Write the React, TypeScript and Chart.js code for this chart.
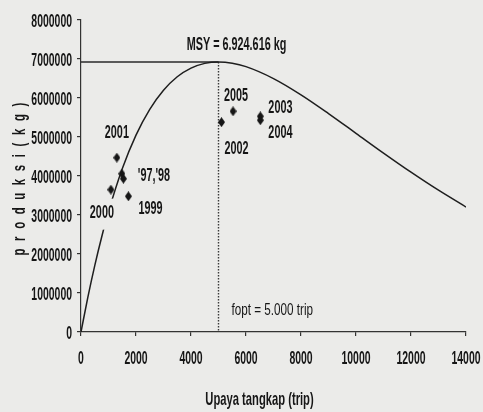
import { useEffect, useRef } from "react";
import { Chart, registerables } from "chart.js";

Chart.register(...registerables);

// ---- data ----
const years = ["1997", "1998", "1999", "2000", "2001", "2002", "2003", "2004", "2005"];
const effortTrips = [1486, 1543, 1725, 1087, 1304, 5109, 6522, 6522, 5529];
const productionKg = [4060000, 3930000, 3480000, 3650000, 4470000, 5380000, 5530000, 5430000, 5660000];

const curveEffort = [0, 250, 500, 750, 1000, 1500, 2000, 2500, 3000, 3500, 4000, 4500, 5000, 5500, 6000, 7000, 8000, 9000, 10000, 11000, 12000, 13000, 14000];
const curveProduction = [0, 895000, 1703000, 2431000, 3082000, 4183000, 5047000, 5708000, 6198000, 6544000, 6766000, 6888000, 6925000, 6893000, 6804000, 6498000, 6081000, 5601000, 5095000, 4588000, 4098000, 3635000, 3205000];

const msyKg = 6924616;
const foptTrips = 5000;

const xTickValues = [0, 2000, 4000, 6000, 8000, 10000, 12000, 14000];
const yTickValues = [0, 1000000, 2000000, 3000000, 4000000, 5000000, 6000000, 7000000, 8000000];

const xTitle = "Upaya tangkap (trip)";
const yTitle = "p r o d u k s i ( k g )";
const msyText = "MSY = 6.924.616 kg";
const foptText = "fopt = 5.000 trip";
const pointLabels = ["'97,'98", "1999", "2000", "2001", "2002", "2003", "2004", "2005"];

// ---- styling ----
const BG = "#ebebe9";
const INK = "#161616";
const FONT = "'Liberation Sans', Arial, sans-serif";

function drawText(
  ctx: CanvasRenderingContext2D,
  text: string,
  x: number,
  y: number,
  size: number,
  sx: number,
  align: CanvasTextAlign,
  weight = "bold",
  rotate = 0,
  spacing = 0
) {
  ctx.save();
  ctx.translate(x, y);
  if (rotate) ctx.rotate(rotate);
  ctx.scale(sx, 1);
  ctx.font = `${weight} ${size}px ${FONT}`;
  try {
    (ctx as any).letterSpacing = spacing + "px";
  } catch (e) {}
  ctx.textAlign = align;
  ctx.textBaseline = "alphabetic";
  ctx.fillStyle = INK;
  ctx.fillText(text, 0, size * 0.36);
  ctx.restore();
}

function diamond(): HTMLCanvasElement {
  const c = document.createElement("canvas");
  c.width = 7;
  c.height = 10;
  const g = c.getContext("2d")!;
  g.fillStyle = INK;
  g.beginPath();
  g.moveTo(3.5, 0);
  g.lineTo(7, 5);
  g.lineTo(3.5, 10);
  g.lineTo(0, 5);
  g.closePath();
  g.fill();
  return c;
}

const annotate = {
  id: "annotate",
  beforeDraw(chart: any) {
    const ctx = chart.ctx;
    ctx.save();
    ctx.fillStyle = BG;
    ctx.fillRect(0, 0, chart.width, chart.height);
    ctx.restore();
  },
  afterDatasetsDraw(chart: any) {
    const ctx: CanvasRenderingContext2D = chart.ctx;
    const xs = chart.scales.x;
    const ys = chart.scales.y;
    const px = (i: number) => xs.getPixelForValue(effortTrips[i]);
    const py = (i: number) => ys.getPixelForValue(productionKg[i]);

    // label background behind "2000" (breaks the curve like in the reference)
    ctx.save();
    ctx.fillStyle = BG;
    ctx.fillRect(px(3) - 22, py(3) + 9, 30, 31);
    ctx.restore();

    // point labels
    drawText(ctx, pointLabels[0], px(0) + 16, py(0), 19, 0.57, "left");
    drawText(ctx, pointLabels[1], px(2) + 10, py(2) + 11, 19, 0.57, "left");
    drawText(ctx, pointLabels[2], px(3) - 9, py(3) + 22, 19, 0.57, "center");
    drawText(ctx, pointLabels[3], px(4), py(4) - 27, 19, 0.57, "center");
    drawText(ctx, pointLabels[4], px(5) + 15, py(5) + 25, 19, 0.57, "center");
    drawText(ctx, pointLabels[5], px(6) + 8, py(6) - 10, 19, 0.57, "left");
    drawText(ctx, pointLabels[6], px(7) + 8, py(7) + 11, 19, 0.57, "left");
    drawText(ctx, pointLabels[7], px(8) + 3, py(8) - 17, 19, 0.57, "center");

    // MSY and fopt
    const fx = xs.getPixelForValue(foptTrips);
    const my = ys.getPixelForValue(msyKg);
    drawText(ctx, msyText, fx + 18, my - 19, 19, 0.57, "center");
    drawText(ctx, foptText, fx + 13, chart.chartArea.bottom - 23, 16, 0.73, "left", "normal");
  },
  afterDraw(chart: any) {
    const ctx: CanvasRenderingContext2D = chart.ctx;
    const xs = chart.scales.x;
    const ys = chart.scales.y;
    const area = chart.chartArea;
    yTickValues.forEach((v) => {
      drawText(ctx, String(v), area.left - 9, ys.getPixelForValue(v), 19, 0.55, "right");
    });
    xTickValues.forEach((v) => {
      drawText(ctx, String(v), xs.getPixelForValue(v), area.bottom + 25, 19, 0.55, "center");
    });
    drawText(ctx, xTitle, (area.left + area.right) / 2 - 14, 398, 19, 0.59, "center");
    drawText(ctx, yTitle, 18, (area.top + area.bottom) / 2 + 2, 19, 0.6, "center", "bold", -Math.PI / 2, 3.7);
  },
};

export default function App() {
  const ref = useRef<HTMLCanvasElement | null>(null);

  useEffect(() => {
    document.body.style.margin = "0";
    document.body.style.background = BG;
    const canvas = ref.current!;
    const chart = new Chart(canvas, {
      type: "scatter",
      data: {
        datasets: [
          {
            type: "scatter",
            label: "Produksi",
            data: effortTrips.map((f, i) => ({ x: f, y: productionKg[i] })),
            pointStyle: diamond() as any,
            pointRadius: 4,
            backgroundColor: INK,
            borderColor: INK,
          },
          {
            type: "line",
            label: "Kurva",
            data: curveEffort.map((f, i) => ({ x: f, y: curveProduction[i] })),
            borderColor: "#1e1e1e",
            borderWidth: 1.5,
            pointRadius: 0,
            cubicInterpolationMode: "monotone",
            fill: false,
          } as any,
          {
            type: "line",
            label: "MSY",
            data: [
              { x: 0, y: msyKg },
              { x: foptTrips, y: msyKg },
            ],
            borderColor: "#2a2a2a",
            borderWidth: 1.4,
            pointRadius: 0,
            fill: false,
          } as any,
          {
            type: "line",
            label: "fopt",
            data: [
              { x: foptTrips, y: msyKg },
              { x: foptTrips, y: 0 },
            ],
            borderColor: "#3a3a3a",
            borderWidth: 1.4,
            borderDash: [1.5, 1.5],
            pointRadius: 0,
            fill: false,
          } as any,
        ],
      },
      options: {
        animation: false,
        responsive: false,
        devicePixelRatio: 1,
        layout: { padding: { left: 0, right: 17, top: 20, bottom: 0 } },
        plugins: {
          legend: { display: false },
          tooltip: { enabled: false },
        },
        scales: {
          x: {
            type: "linear",
            min: 0,
            max: 14000,
            afterBuildTicks: (s: any) => {
              s.ticks = xTickValues.map((v) => ({ value: v }));
            },
            afterFit: (s: any) => {
              s.height = 80;
            },
            ticks: { display: false },
            grid: { drawOnChartArea: false, drawTicks: true, tickLength: 4, color: "#333", lineWidth: 1.2 },
            border: { display: true, color: "#333", width: 1.2 },
          },
          y: {
            type: "linear",
            min: 0,
            max: 8000000,
            afterBuildTicks: (s: any) => {
              s.ticks = yTickValues.map((v) => ({ value: v }));
            },
            afterFit: (s: any) => {
              s.width = 81;
            },
            ticks: { display: false },
            grid: { drawOnChartArea: false, drawTicks: true, tickLength: 4, color: "#333", lineWidth: 1.2 },
            border: { display: true, color: "#333", width: 1.2 },
          },
        },
      },
      plugins: [annotate],
    });
    return () => chart.destroy();
  }, []);

  return <canvas ref={ref} width={483} height={412} style={{ display: "block", width: 483, height: 412 }} />;
}
